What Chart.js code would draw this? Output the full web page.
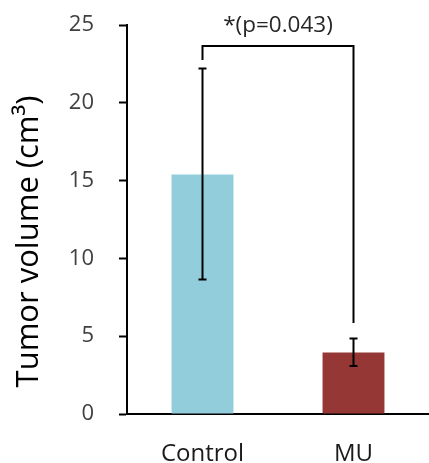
<!DOCTYPE html>
<html>
<head>
<meta charset="utf-8">
<script src="https://cdn.jsdelivr.net/npm/chart.js@4"></script>
<style>
  html, body { margin: 0; padding: 0; background: #fff; }
  #wrap { width: 429px; height: 463px; }
</style>
</head>
<body>
<div id="wrap"><canvas id="chart" width="429" height="463"></canvas></div>
<script>
// ===== data =====
const categories = ['Control', 'MU'];
const meanVolume = [15.4, 3.95];
const errLow = [8.65, 3.08];
const errHigh = [22.2, 4.85];
const barColors = ['#92cddc', '#953735'];
const yTicks = [0, 5, 10, 15, 20, 25];
// significance bracket: top level, and where each leg stops
const bracketTop = 23.65;
const bracketLegEnds = [22.75, 5.85];
const sigLabel = '*(p=0.043)';
const yTitle = 'Tumor volume (cm\u00b3)';

const FONT = "'Open Sans', sans-serif";

const errorBars = {
  id: 'errorBars',
  afterDatasetsDraw(chart) {
    const { ctx, scales: { y } } = chart;
    const bars = chart.getDatasetMeta(0).data;
    ctx.save();
    ctx.strokeStyle = '#000';
    ctx.lineWidth = 2;
    bars.forEach((bar, i) => {
      const hi = y.getPixelForValue(errHigh[i]);
      const lo = y.getPixelForValue(errLow[i]);
      ctx.beginPath();
      ctx.moveTo(bar.x, hi); ctx.lineTo(bar.x, lo);
      ctx.moveTo(bar.x - 4, hi); ctx.lineTo(bar.x + 4, hi);
      ctx.moveTo(bar.x - 4, lo); ctx.lineTo(bar.x + 4, lo);
      ctx.stroke();
    });

    // bracket
    const top = y.getPixelForValue(bracketTop);
    const x0 = bars[0].x, x1 = bars[1].x;
    ctx.beginPath();
    ctx.moveTo(x0, y.getPixelForValue(bracketLegEnds[0]));
    ctx.lineTo(x0, top);
    ctx.lineTo(x1, top);
    ctx.lineTo(x1, y.getPixelForValue(bracketLegEnds[1]));
    ctx.stroke();

    ctx.fillStyle = '#262626';
    ctx.font = '22.5px ' + FONT;
    ctx.textAlign = 'center';
    ctx.textBaseline = 'alphabetic';
    ctx.fillText(sigLabel, (x0 + x1) / 2, top - 14);

    // y title
    const area = chart.chartArea;
    ctx.translate(29, (area.top + area.bottom) / 2 + 22);
    ctx.rotate(-Math.PI / 2);
    ctx.font = '31px ' + FONT;
    ctx.textBaseline = 'middle';
    ctx.fillStyle = '#000';
    ctx.fillText(yTitle, 0, 0);
    ctx.restore();
  }
};

new Chart(document.getElementById('chart'), {
  type: 'bar',
  data: {
    labels: categories,
    datasets: [{
      data: meanVolume,
      backgroundColor: barColors,
      borderWidth: 0,
      barPercentage: 0.41,
      categoryPercentage: 1
    }]
  },
  options: {
    responsive: false,
    animation: false,
    layout: { padding: { top: 25, right: 0, left: 0, bottom: 0 } },
    plugins: { legend: { display: false }, tooltip: { enabled: false } },
    scales: {
      x: {
        grid: { display: false },
        border: { display: true, color: '#000', width: 2 },
        ticks: { color: '#1a1a1a', font: { family: FONT, size: 24 }, padding: 18 },
        afterFit: s => { s.height = 49; s.paddingLeft = 0; s.paddingRight = 0; }
      },
      y: {
        min: 0, max: 25,
        afterBuildTicks: s => { s.ticks = yTicks.map(v => ({ value: v })); },
        grid: { drawOnChartArea: false, drawTicks: true, tickLength: 8, tickWidth: 2, tickColor: '#000' },
        border: { display: true, color: '#000', width: 2 },
        ticks: { color: '#404040', font: { family: FONT, size: 22 }, padding: 25 },
        afterFit: s => { s.width = 127; s.paddingTop = 0; s.paddingBottom = 0; }
      }
    }
  },
  plugins: [errorBars]
});
</script>
</body>
</html>
